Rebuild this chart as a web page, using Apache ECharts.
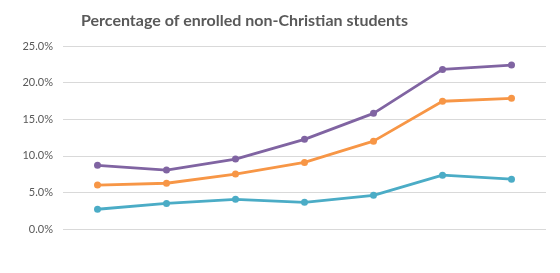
<!DOCTYPE html>
<html>
<head>
<meta charset="utf-8">
<script src="https://cdn.jsdelivr.net/npm/echarts@6/dist/echarts.min.js"></script>
<style>
    html, body { margin: 0; padding: 0; background: #fff; }
    #chart { width: 560px; height: 273px; }
</style>
</head>
<body>
<div id="chart"></div>
<script>
    // 数据
    var categories = ['1', '2', '3', '4', '5', '6', '7'];
    var purpleData = [8.7, 8.05, 9.55, 12.25, 15.8, 21.8, 22.4];
    var orangeData = [6.0, 6.25, 7.5, 9.1, 12.0, 17.45, 17.85];
    var tealData = [2.7, 3.5, 4.05, 3.65, 4.6, 7.35, 6.8];
    var yTicks = [0, 5, 10, 15, 20, 25];

    var chart = echarts.init(document.getElementById('chart'));

    function lineSeries(data, color) {
        return {
            type: 'line',
            data: data,
            symbol: 'circle',
            symbolSize: 7,
            lineStyle: { width: 2.8, color: color },
            itemStyle: { color: color },
            animation: false
        };
    }

    var option = {
        title: {
            text: 'Percentage of enrolled non-Christian students',
            left: 76,
            top: 8,
            textStyle: {
                fontFamily: 'Lato',
                fontWeight: 'bold',
                fontSize: 16,
                color: '#595959'
            }
        },
        grid: {
            left: 63,
            right: 14,
            top: 46,
            bottom: 44
        },
        xAxis: {
            type: 'category',
            data: categories,
            boundaryGap: true,
            axisLine: { show: false },
            axisTick: { show: false },
            axisLabel: { show: false }
        },
        yAxis: {
            type: 'value',
            min: yTicks[0],
            max: yTicks[yTicks.length - 1],
            interval: 5,
            axisLine: { show: false },
            axisTick: { show: false },
            splitLine: { lineStyle: { color: '#d9d9d9', width: 1 } },
            axisLabel: {
                margin: 10,
                fontFamily: 'Lato',
                fontSize: 11,
                color: '#595959',
                formatter: function (v) { return v.toFixed(1) + '%'; }
            }
        },
        series: [
            lineSeries(purpleData, '#8064A2'),
            lineSeries(orangeData, '#F79646'),
            lineSeries(tealData, '#4BACC6')
        ]
    };
    chart.setOption(option);
</script>
</body>
</html>
